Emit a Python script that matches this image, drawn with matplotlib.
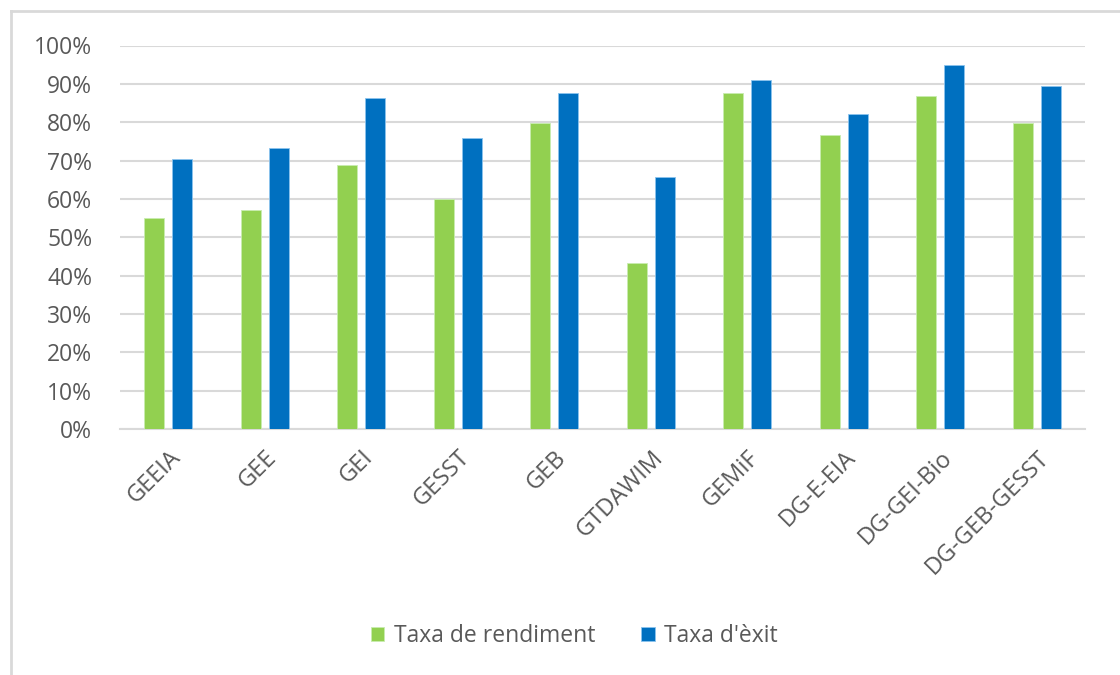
import matplotlib.pyplot as plt
import numpy as np
from matplotlib.lines import Line2D

# dades
titulacions = ["GEEIA", "GEE", "GEI", "GESST", "GEB", "GTDAWIM", "GEMiF",
               "DG-E-EIA", "DG-GEI-Bio", "DG-GEB-GESST"]
taxa_rendiment = [0.549, 0.572, 0.688, 0.599, 0.797, 0.432, 0.875, 0.766, 0.868, 0.797]
taxa_exit = [0.704, 0.732, 0.864, 0.758, 0.875, 0.658, 0.910, 0.821, 0.949, 0.894]

verd = "#92D050"
blau = "#0070C0"
gris = "#595959"

plt.rcParams['font.family'] = ['Open Sans', 'DejaVu Sans']

fig = plt.figure(figsize=(11.2, 6.75), dpi=100)
ax = fig.add_axes([120 / 1120, 1 - 429 / 675, 965 / 1120, 383.5 / 675])

x = np.arange(len(titulacions))
amplada = 0.21
ax.bar(x - 0.145, taxa_rendiment, amplada, color=verd, edgecolor="#c8ecb0",
       linewidth=0.6, label="Taxa de rendiment", zorder=3)
ax.bar(x + 0.145, taxa_exit, amplada, color=blau, edgecolor="#8cc4ee",
       linewidth=0.6, label="Taxa d'èxit", zorder=3)

ax.set_xlim(-0.5, len(titulacions) - 0.5)
ax.set_ylim(0, 1)
ax.set_yticks(np.arange(0, 1.01, 0.1))
ax.set_yticklabels([f"{int(round(v * 100))}%" for v in np.arange(0, 1.01, 0.1)],
                   fontsize=16.5, color=gris)
ax.yaxis.grid(True, color="#d9d9d9", linewidth=1.5, zorder=0)
ax.set_axisbelow(True)
ax.tick_params(axis="y", length=0, pad=20)
ax.tick_params(axis="x", length=0, pad=12)
ax.set_xticks(x)
ax.set_xticklabels(titulacions, rotation=45, ha="right", rotation_mode="anchor",
                   fontsize=17, color=gris)
for s in ["top", "right", "left"]:
    ax.spines[s].set_visible(False)
ax.spines["bottom"].set_color("#d9d9d9")
ax.spines["bottom"].set_linewidth(1.5)

leg = fig.legend(loc="center", bbox_to_anchor=(574 / 1120, 1 - 636 / 675), ncol=2,
                 frameon=False, fontsize=16.5, handlelength=0.6, handleheight=0.6,
                 handletextpad=0.4, columnspacing=2.0)
for t in leg.get_texts():
    t.set_color(gris)

# vora exterior (nomes esquerra i dalt)
fig.add_artist(Line2D([11 / 1120, 11 / 1120], [0, 1 - 11 / 675], color="#d9d9d9",
                      linewidth=2, transform=fig.transFigure))
fig.add_artist(Line2D([11 / 1120, 1], [1 - 11 / 675, 1 - 11 / 675], color="#d9d9d9",
                      linewidth=2, transform=fig.transFigure))

fig.savefig("out.png", dpi=100)
